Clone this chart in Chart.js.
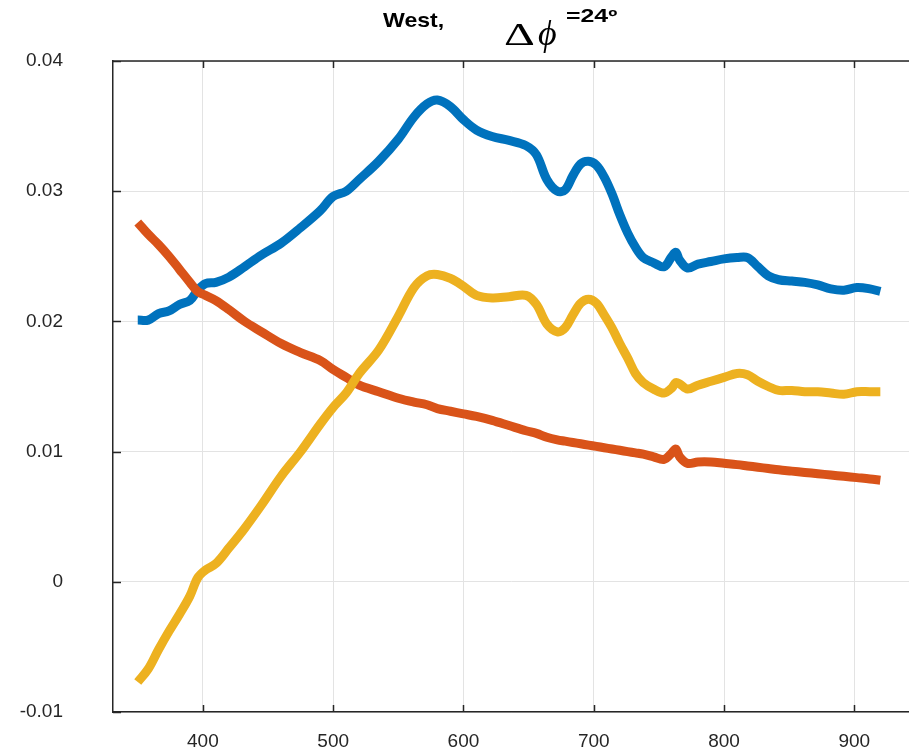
<!DOCTYPE html>
<html>
<head>
<meta charset="utf-8">
<script src="https://cdn.jsdelivr.net/npm/chart.js@4/dist/chart.umd.min.js"></script>
<style>
    body { margin: 0; background: #fff; }
    #wrap { position: relative; width: 909px; height: 750px; }
    #chart { position: absolute; left: 0; top: 0; }
    .ttl { position: absolute; color: #000; font-family: "Liberation Sans", Arial, sans-serif; white-space: nowrap; transform-origin: 0 0; line-height: 1; }
    .tex { font-family: "Liberation Serif", "DejaVu Serif", serif; }
</style>
</head>
<body>
<div id="wrap">
    <canvas id="chart" width="909" height="750"></canvas>
    <div class="ttl" style="left:383px; top:9px; font-size:21px; font-weight:bold; transform:scaleX(1.1);">West,</div>
    <div class="ttl tex" style="left:504px; top:18px; font-size:32px; transform:scaleX(1.5);">&Delta;</div>
    <div class="ttl tex" style="left:538px; top:15px; font-size:36px; font-style:italic;">&#981;</div>
    <div class="ttl" style="left:566px; top:7px; font-size:18px; font-weight:bold; transform:scaleX(1.38);">=24º</div>
</div>
<script>
const wavelength = [350, 358, 366, 374, 382, 390, 396, 402, 410, 420, 432, 445, 460, 475, 490, 500, 510, 520, 535, 550,
    562, 572, 580, 590, 600, 610, 622, 635, 648, 656, 664, 672, 678, 684, 690, 696, 702, 708, 714, 720,
    726, 732, 738, 746, 754, 760, 763, 766, 772, 780, 790, 800, 810, 818, 826, 834, 842, 852, 862, 872,
    882, 892, 902, 912, 920];

const seriesBlue = [0.0201, 0.0201, 0.0206, 0.0208, 0.0213, 0.0216, 0.0224, 0.0229, 0.0230, 0.0234, 0.0242, 0.0251, 0.0260, 0.0272, 0.0285, 0.0296, 0.0300, 0.0309, 0.0323, 0.0340,
    0.0357, 0.0367, 0.0370, 0.0365, 0.0355, 0.0347, 0.0342, 0.0339, 0.0335, 0.0328, 0.0309, 0.0300, 0.0301, 0.0312, 0.0321, 0.0323, 0.0320, 0.0311, 0.0298, 0.0282,
    0.0268, 0.0257, 0.0249, 0.0245, 0.0242, 0.0250, 0.0253, 0.0247, 0.0241, 0.0244, 0.0246, 0.0248, 0.0249, 0.0249, 0.0242, 0.0235, 0.0232, 0.0231, 0.0230, 0.0228,
    0.0225, 0.0224, 0.0226, 0.0225, 0.0223];

const seriesOrange = [0.0276, 0.0267, 0.0259, 0.0250, 0.0240, 0.0230, 0.0223, 0.0220, 0.0216, 0.0209, 0.0200, 0.0192, 0.0183, 0.0176, 0.0170, 0.0163, 0.0157, 0.0151, 0.0146, 0.0141,
    0.0138, 0.0136, 0.0133, 0.0131, 0.0129, 0.0127, 0.0124, 0.0120, 0.0116, 0.0114, 0.0111, 0.0109, 0.0108, 0.0107, 0.0106, 0.0105, 0.0104, 0.0103, 0.0102, 0.0101,
    0.0100, 0.0099, 0.0098, 0.0096, 0.0094, 0.0099, 0.0102, 0.0096, 0.0091, 0.0092, 0.0092, 0.0091, 0.0090, 0.0089, 0.0088, 0.0087, 0.0086, 0.0085, 0.0084, 0.0083,
    0.0082, 0.0081, 0.0080, 0.0079, 0.0078];

const seriesYellow = [-0.0077, -0.0067, -0.0052, -0.0038, -0.0025, -0.0011, 0.0003, 0.0009, 0.0014, 0.0026, 0.0041, 0.0059, 0.0081, 0.0100, 0.0121, 0.0134, 0.0145, 0.0160, 0.0178, 0.0204,
    0.0226, 0.0235, 0.0236, 0.0233, 0.0227, 0.0220, 0.0218, 0.0219, 0.0220, 0.0213, 0.0198, 0.0192, 0.0195, 0.0205, 0.0214, 0.0217, 0.0214, 0.0205, 0.0195, 0.0183,
    0.0172, 0.0160, 0.0153, 0.0148, 0.0145, 0.0149, 0.0153, 0.0152, 0.0148, 0.0151, 0.0154, 0.0157, 0.0160, 0.0159, 0.0154, 0.0150, 0.0147, 0.0147, 0.0146, 0.0146,
    0.0145, 0.0144, 0.0146, 0.0146, 0.0146];

const xTicks = [400, 500, 600, 700, 800, 900];
const yTicks = [-0.01, 0, 0.01, 0.02, 0.03, 0.04];
const yTickLabels = ["-0.01", "0", "0.01", "0.02", "0.03", "0.04"];

const axisColor = "#262626";
const gridColor = "#e3e3e3";

function toPoints(values)
{
    return wavelength.map((w, i) => ({ x: w, y: values[i] }));
}

function makeDataset(values, color, order)
{
    return {
        data: toPoints(values),
        borderColor: color,
        borderWidth: 9,
        pointRadius: 0,
        tension: 0.35,
        fill: false,
        borderJoinStyle: "round",
        order: order
    };
}

// matlab style inward ticks and the top box edge
const boxTicks = {
    id: "boxTicks",
    afterDraw(chart) {
        const ctx = chart.ctx;
        const a = chart.chartArea;
        const xs = chart.scales.x;
        const ys = chart.scales.y;
        ctx.save();
        ctx.strokeStyle = axisColor;
        ctx.lineWidth = 1.5;
        ctx.beginPath();
        ctx.moveTo(a.left, a.top);
        ctx.lineTo(a.right, a.top);
        xTicks.forEach(v => {
            const px = Math.round(xs.getPixelForValue(v)) + 0.5;
            ctx.moveTo(px, a.bottom);
            ctx.lineTo(px, a.bottom - 7);
            ctx.moveTo(px, a.top);
            ctx.lineTo(px, a.top + 7);
        });
        yTicks.forEach(v => {
            const py = Math.round(ys.getPixelForValue(v)) + 0.5;
            ctx.moveTo(a.left, py);
            ctx.lineTo(a.left + 8, py);
        });
        ctx.stroke();
        ctx.restore();
    }
};

new Chart(document.getElementById("chart"), {
    type: "line",
    data: {
        datasets: [
            makeDataset(seriesBlue, "#0072BD", 2),
            makeDataset(seriesOrange, "#D95319", 1),
            makeDataset(seriesYellow, "#EDB120", 0)
        ]
    },
    options: {
        responsive: false,
        animation: false,
        devicePixelRatio: 1,
        layout: { padding: { top: 61, right: 0, left: 0, bottom: 0 } },
        plugins: {
            legend: { display: false },
            tooltip: { enabled: false }
        },
        scales: {
            x: {
                type: "linear",
                min: 331,
                max: 942,
                afterBuildTicks: s => { s.ticks = xTicks.map(v => ({ value: v })); },
                afterFit: s => { s.height = 38; s.paddingLeft = 0; s.paddingRight = 0; },
                grid: { color: gridColor, lineWidth: 1, drawTicks: false },
                border: { color: axisColor, width: 1.5 },
                ticks: {
                    color: axisColor,
                    font: { family: "Liberation Sans", size: 19 },
                    padding: 18,
                    maxRotation: 0,
                    autoSkip: false
                }
            },
            y: {
                type: "linear",
                min: -0.01,
                max: 0.04,
                afterBuildTicks: s => { s.ticks = yTicks.map(v => ({ value: v })); },
                afterFit: s => { s.width = 113; s.paddingTop = 0; s.paddingBottom = 0; },
                grid: { color: gridColor, lineWidth: 1, drawTicks: false },
                border: { color: axisColor, width: 1.5 },
                ticks: {
                    color: axisColor,
                    font: { family: "Liberation Sans", size: 19 },
                    padding: 50,
                    autoSkip: false,
                    callback: (v, i) => yTickLabels[i]
                }
            }
        }
    },
    plugins: [boxTicks]
});
</script>
</body>
</html>
